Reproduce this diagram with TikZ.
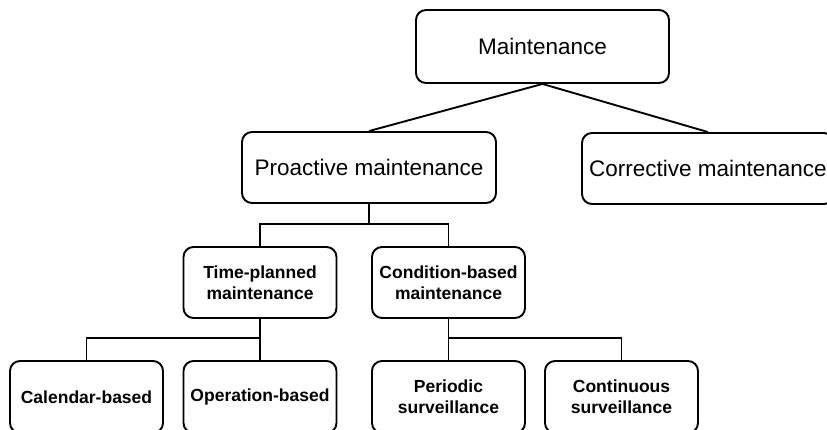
\documentclass[tikz,border=0pt]{standalone}
\usepackage{fontspec}
\setmainfont{Liberation Sans}
\begin{document}
\begin{tikzpicture}[x=1pt,y=-1pt,
  box/.style={draw, line width=1.9pt, rounded corners=10pt, align=center,
    inner sep=0pt, minimum height=71pt},
  bigbox/.style={box, font=\fontsize{22.5}{27}\selectfont},
  smallbox/.style={box, minimum width=153pt, font=\bfseries\fontsize{17.5}{21}\selectfont},
  link/.style={line width=1.9pt}]
\clip (0,0) rectangle (827,429);
\fill[white] (0,0) rectangle (827,429);

% top level
\node[bigbox, minimum width=253pt, minimum height=73pt] (mnt) at (542.5,46.5) {Maintenance};

% second level
\node[bigbox, minimum width=254pt] (pro) at (369,167.5) {Proactive maintenance};
\node[bigbox, minimum width=252pt] (cor) at (708,168.5) {Corrective maintenance};

% third level
\node[smallbox] (tpm) at (260,282.5) {Time-planned\\maintenance};
\node[smallbox] (cbm) at (448.5,282.5) {Condition-based\\maintenance};

% leaves
\node[smallbox, minimum height=72pt] (cal) at (86.5,397) {Calendar-based};
\node[smallbox, minimum height=72pt] (opb) at (260,397) {Operation-based};
\node[smallbox, minimum height=72pt] (per) at (448.5,397) {Periodic\\surveillance};
\node[smallbox, minimum height=72pt] (con) at (621.5,397) {Continuous\\surveillance};

% connectors
\draw[link] (mnt.south) -- (pro.north);
\draw[link] (mnt.south) -- (cor.north);

\coordinate (probus) at (369,224);
\draw[link] (pro.south) -- (probus);
\draw[link] (tpm.north) |- (probus) -| (cbm.north);

\coordinate (tpbus) at (260,338);
\draw[link] (tpm.south) -- (opb.north);
\draw[link] (cal.north) |- (tpbus);

\coordinate (cbbus) at (448.5,338);
\draw[link] (cbm.south) -- (per.north);
\draw[link] (cbbus) -| (con.north);
\end{tikzpicture}
\end{document}
